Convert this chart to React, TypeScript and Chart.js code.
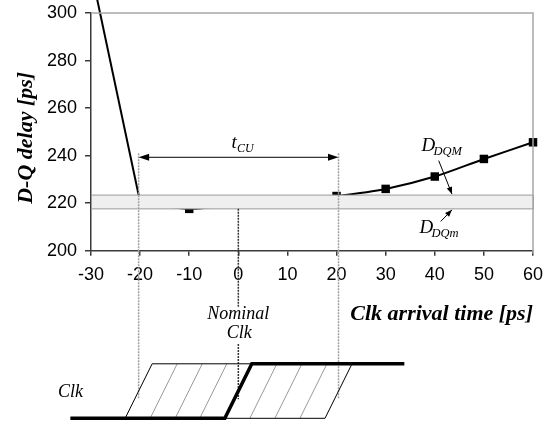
import React, { useEffect, useRef } from "react";
import { Chart, registerables } from "chart.js";

Chart.register(...registerables);

// ---- data ----
const clkArrival = [-30, -20, -10, 0, 10, 20, 30, 40, 50, 60];
const dqDelay = [318, 220.5, 217.6, 219.8, 220.9, 223.0, 226.0, 231.2, 238.6, 245.6];
const xRange = [-30, 60];
const xStep = 10;
const yRange = [200, 300];
const yStep = 20;
const dDQm = 217.6; // lower edge of the band
const dDQM = 223.4; // upper edge of the band
const tCU = [-20.3, 20.4]; // setup/hold window
const tCULevel = 239.3;
const nominalClk = 0;
const hatchEdges = [-15.2, -10.1, -5.1, 5.1, 10.2, 15.3];
const clkLowStart = -34.2;
const clkHighEnd = 33.8;
const edgeSlant = 2.75;
const labelDDQM = { x: 37.3, y: 241.9, ax: 40.8, ay: 237.9, tipX: 43.5 };
const labelDDQm = { x: 36.9, y: 207.6, ax: 41.2, ay: 212.3, tipX: 43.5 };

const SANS = '"Liberation Sans", Arial, sans-serif';
const SERIF = '"Liberation Serif", "Times New Roman", serif';

function arrowHead(ctx: CanvasRenderingContext2D, x1: number, y1: number, x2: number, y2: number, len: number, half: number) {
  const a = Math.atan2(y2 - y1, x2 - x1);
  const bx = x2 - len * Math.cos(a);
  const by = y2 - len * Math.sin(a);
  ctx.beginPath();
  ctx.moveTo(x2, y2);
  ctx.lineTo(bx + half * Math.sin(a), by - half * Math.cos(a));
  ctx.lineTo(bx - half * Math.sin(a), by + half * Math.cos(a));
  ctx.closePath();
  ctx.fill();
}

function arrow(ctx: CanvasRenderingContext2D, x1: number, y1: number, x2: number, y2: number, len: number, half: number) {
  ctx.beginPath();
  ctx.moveTo(x1, y1);
  ctx.lineTo(x2, y2);
  ctx.stroke();
  arrowHead(ctx, x1, y1, x2, y2, len, half);
}

const overlay = {
  id: "overlay",
  afterDatasetsDraw(chart: any) {
    const { ctx, chartArea: ca, scales } = chart;
    const y = scales.y;
    ctx.save();
    const yTop = y.getPixelForValue(dDQM);
    const yBot = y.getPixelForValue(dDQm);
    ctx.fillStyle = "#efefef";
    ctx.fillRect(ca.left + 0.5, yTop, ca.right - ca.left, yBot - yTop);
    ctx.strokeStyle = "#9a9a9a";
    ctx.lineWidth = 1;
    ctx.strokeRect(ca.left + 0.5, yTop, ca.right - ca.left, yBot - yTop);
    ctx.restore();
  },
  afterDraw(chart: any) {
    const { ctx, chartArea: ca, scales } = chart;
    const x = scales.x;
    const y = scales.y;
    ctx.save();

    // frame top & right
    ctx.strokeStyle = "#a8a8a8";
    ctx.lineWidth = 1.5;
    ctx.beginPath();
    ctx.moveTo(ca.left, ca.top);
    ctx.lineTo(ca.right, ca.top);
    ctx.lineTo(ca.right, ca.bottom + 3);
    ctx.stroke();

    const yLow = 418.3;
    const yHigh = 363.8;
    const lineTop = y.getPixelForValue(tCULevel) - 4;
    const lineBottom = 399.3;

    // gray dotted window lines
    ctx.strokeStyle = "#a0a0a0";
    ctx.lineWidth = 1.5;
    ctx.setLineDash([2, 1]);
    for (const v of tCU) {
      const px = x.getPixelForValue(v);
      ctx.beginPath();
      ctx.moveTo(px, lineTop);
      ctx.lineTo(px, lineBottom);
      ctx.stroke();
    }
    // nominal clock dashed line
    const x0 = x.getPixelForValue(nominalClk);
    ctx.strokeStyle = "#333";
    ctx.lineWidth = 1.5;
    ctx.setLineDash([2, 1]);
    ctx.beginPath();
    ctx.moveTo(x0, y.getPixelForValue(dDQm));
    ctx.lineTo(x0, 307);
    ctx.moveTo(x0, 344);
    ctx.lineTo(x0, lineBottom);
    ctx.stroke();
    ctx.setLineDash([]);

    // t_CU arrow
    ctx.strokeStyle = "#000";
    ctx.fillStyle = "#000";
    ctx.lineWidth = 1;
    const ay = y.getPixelForValue(tCULevel);
    const xa = x.getPixelForValue(tCU[0]);
    const xb = x.getPixelForValue(tCU[1]);
    ctx.beginPath();
    ctx.moveTo(xa + 5, ay);
    ctx.lineTo(xb - 5, ay);
    ctx.stroke();
    arrowHead(ctx, xb, ay, xa, ay, 10.5, 3.5);
    arrowHead(ctx, xa, ay, xb, ay, 10.5, 3.5);

    ctx.textAlign = "left";
    ctx.textBaseline = "alphabetic";
    ctx.font = `italic 19px ${SERIF}`;
    ctx.fillText("t", 231.5, ay - 9);
    ctx.font = `italic 12px ${SERIF}`;
    ctx.fillText("CU", 237, ay - 5.5);

    // D_DQM / D_DQm labels and arrows
    const drawLabel = (lab: any, sub: string, tipY: number) => {
      const lx = x.getPixelForValue(lab.x);
      const ly = y.getPixelForValue(lab.y);
      ctx.font = `italic 19px ${SERIF}`;
      ctx.fillText("D", lx, ly);
      ctx.font = `italic 12.5px ${SERIF}`;
      ctx.fillText(sub, lx + 12, ly + 4);
      arrow(ctx, x.getPixelForValue(lab.ax), y.getPixelForValue(lab.ay), x.getPixelForValue(lab.tipX), tipY, 7, 2.8);
    };
    drawLabel(labelDDQM, "DQM", y.getPixelForValue(dDQM) - 1);
    drawLabel(labelDDQm, "DQm", y.getPixelForValue(dDQm) + 1);

    // axis titles
    ctx.font = `italic bold 22px ${SERIF}`;
    ctx.textAlign = "right";
    ctx.fillText("Clk arrival time [ps]", ca.right, 319.5);
    ctx.save();
    ctx.translate(31.5, (ca.top + ca.bottom) / 2 + 6);
    ctx.rotate(-Math.PI / 2);
    ctx.textAlign = "center";
    ctx.fillText("D-Q delay [ps]", 0, 0);
    ctx.restore();

    // Nominal Clk labels
    ctx.font = `italic 18px ${SERIF}`;
    ctx.textAlign = "center";
    ctx.fillText("Nominal", x0, 319.3);
    ctx.fillText("Clk", x0 + 1, 337.7);
    ctx.textAlign = "left";
    ctx.fillText("Clk", 58, 396.7);

    // clock diagram
    const sl = x.getPixelForValue(edgeSlant) - x.getPixelForValue(0);
    const L = x.getPixelForValue(tCU[0]);
    const R = x.getPixelForValue(tCU[1]);
    ctx.strokeStyle = "#999";
    ctx.lineWidth = 1;
    for (const h of hatchEdges) {
      const hp = x.getPixelForValue(h);
      ctx.beginPath();
      ctx.moveTo(hp - sl, yLow);
      ctx.lineTo(hp + sl, yHigh);
      ctx.stroke();
    }
    ctx.strokeStyle = "#000";
    ctx.lineWidth = 1;
    ctx.beginPath();
    ctx.moveTo(L - sl, yLow);
    ctx.lineTo(L + sl, yHigh);
    ctx.lineTo(R + sl, yHigh);
    ctx.lineTo(R - sl, yLow);
    ctx.closePath();
    ctx.stroke();

    ctx.lineWidth = 3.5;
    ctx.lineJoin = "miter";
    ctx.beginPath();
    ctx.moveTo(x.getPixelForValue(clkLowStart), yLow);
    ctx.lineTo(x0 - sl, yLow);
    ctx.lineTo(x0 + sl, yHigh);
    ctx.lineTo(x.getPixelForValue(clkHighEnd), yHigh);
    ctx.stroke();

    ctx.restore();
  },
};

export default function App() {
  const ref = useRef<HTMLCanvasElement | null>(null);
  useEffect(() => {
    if (!ref.current) return;
    const steep = clkArrival.slice(0, 2).map((v, i) => ({ x: v, y: dqDelay[i] }));
    const main = clkArrival.slice(1).map((v, i) => ({ x: v, y: dqDelay[i + 1] }));
    const axisColor = "#3a3a3a";
    const chart = new Chart(ref.current, {
      type: "line",
      data: {
        datasets: [
          {
            data: steep,
            borderColor: "#000",
            borderWidth: 2,
            pointRadius: 0,
            tension: 0,
            clip: false as any,
          },
          {
            data: main,
            borderColor: "#000",
            backgroundColor: "#000",
            borderWidth: 2,
            pointStyle: "rect",
            pointRadius: 6,
            pointBackgroundColor: "#000",
            pointBorderColor: "#000",
            pointBorderWidth: 0,
            tension: 0.3,
            clip: false as any,
          },
        ],
      },
      options: {
        animation: false,
        responsive: true,
        maintainAspectRatio: false,
        layout: { padding: { top: 13, right: 12, left: 0, bottom: 0 } },
        plugins: { legend: { display: false }, tooltip: { enabled: false } },
        scales: {
          x: {
            type: "linear",
            min: xRange[0],
            max: xRange[1],
            ticks: { stepSize: xStep, color: "#000", font: { family: SANS, size: 18 }, padding: 9 },
            grid: { drawOnChartArea: false, drawTicks: true, tickLength: 5, tickColor: axisColor, lineWidth: 1.5 },
            border: { color: axisColor, width: 1.5 },
            afterFit: (s: any) => {
              s.height = 174.3;
              s.paddingLeft = 0;
              s.paddingRight = 0;
            },
          },
          y: {
            type: "linear",
            min: yRange[0],
            max: yRange[1],
            ticks: { stepSize: yStep, color: "#000", font: { family: SANS, size: 18 }, padding: 8 },
            grid: { drawOnChartArea: false, drawTicks: true, tickLength: 6, tickColor: axisColor, lineWidth: 1.5 },
            border: { color: axisColor, width: 1.5 },
            afterFit: (s: any) => {
              s.width = 91;
              s.paddingTop = 0;
              s.paddingBottom = 0;
            },
          },
        },
      } as any,
      plugins: [overlay],
    });
    return () => chart.destroy();
  }, []);
  return (
    <div style={{ position: "fixed", left: 0, top: 0, width: 545, height: 425, background: "#fff" }}>
      <canvas ref={ref} />
    </div>
  );
}
